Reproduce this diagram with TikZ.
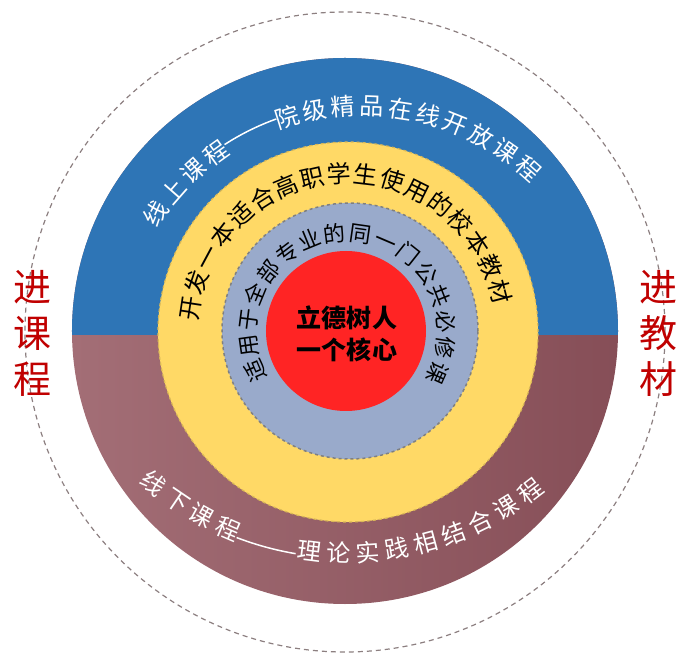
\documentclass[tikz,border=0pt]{standalone}
\usepackage{fontspec}
\usetikzlibrary{decorations.text}
\newfontfamily\cjk{Noto Sans CJK SC}
\definecolor{ringblue}{HTML}{2E75B6}
\definecolor{wineleft}{HTML}{A36E76}
\definecolor{wineright}{HTML}{864E57}
\definecolor{ringgold}{HTML}{FFD966}
\definecolor{ringgrey}{HTML}{99AACB}
\definecolor{corered}{HTML}{FF2424}
\definecolor{tagred}{HTML}{C00000}
\definecolor{dashgrey}{HTML}{8C7F80}
\newcommand\bigringfont{\cjk\fontsize{24bp}{24bp}\selectfont}
\newcommand\smallringfont{\cjk\fontsize{22bp}{22bp}\selectfont}
\newcommand\corefont{\cjk\bfseries\fontsize{25bp}{32bp}\selectfont}
\newcommand\tagfont{\cjk\fontsize{38bp}{46bp}\selectfont}
\begin{document}
\begin{tikzpicture}[x=1bp,y=1bp,
  ringtext/.style={decorate,decoration={text along path,text align={fit to path},#1}},
  ringdash/.style={white,line width=1.5bp},
  tag/.style={align=center,text=tagred,font=\tagfont}]
\useasboundingbox (-347,-339) rectangle (353,332);
% outer dashed ring
\draw[dashgrey,dash pattern=on 5bp off 4bp,line width=1.2bp] (-2,0) circle[radius=320];
% online / offline disc
\shade[left color=wineleft,right color=wineright] (-2,1) circle[radius=273];
\begin{scope}
\clip (-300,-3) rectangle (300,300);
\fill[ringblue] (-2,1) circle[radius=273];
\end{scope}
% textbook ring, course ring, core
\filldraw[fill=ringgold,draw=ringgold!85!black,dashed,line width=1.2bp] (1,0) circle[radius=190];
\filldraw[fill=ringgrey,draw=gray,dashed,line width=1.5bp] (3,1) circle[radius=128];
\fill[corered] (-1,1) circle[radius=80];
\node (core) at (0,-2) [align=center,font=\corefont] {立德树人\\一个核心};
% online course text
\path[shift={(15,-25)},ringtext={text={|\bigringfont|线上课程},text color=white}]
  (148.1:242) arc[start angle=148.1,end angle=122.7,radius=242];
\draw[shift={(15,-25)},ringdash] (122.9:253) arc[start angle=122.9,end angle=109.8,radius=253];
\path[shift={(15,-25)},ringtext={text={|\bigringfont|院级精品在线开放课程},text color=white}]
  (110.2:242) arc[start angle=110.2,end angle=45.7,radius=242];
% offline course text
\path[shift={(0,82)},ringtext={text={|\bigringfont|线下课程},text color=white}]
  (228.2:312) arc[start angle=228.2,end angle=249,radius=312];
\draw[shift={(0,82)},ringdash] (249:308) arc[start angle=249,end angle=260.4,radius=308];
\path[shift={(0,82)},ringtext={text={|\bigringfont|理论实践相结合课程},text color=white}]
  (260.6:312) arc[start angle=260.6,end angle=309.4,radius=312];
% textbook and course texts
\path[ringtext={text={|\bigringfont|开发一本适合高职学生使用的校本教材},text color=black}]
  (176:149) arc[start angle=176,end angle=10,radius=149];
\path[ringtext={text={|\smallringfont|适用于全部专业的同一门公共必修课},text color=black}]
  (210:91) arc[start angle=210,end angle=-31,radius=91];
% side tags
\node (course) at (-314,-1) [tag] {进\\课\\程};
\node (book) at (311,-1) [tag] {进\\教\\材};
\end{tikzpicture}
\end{document}
